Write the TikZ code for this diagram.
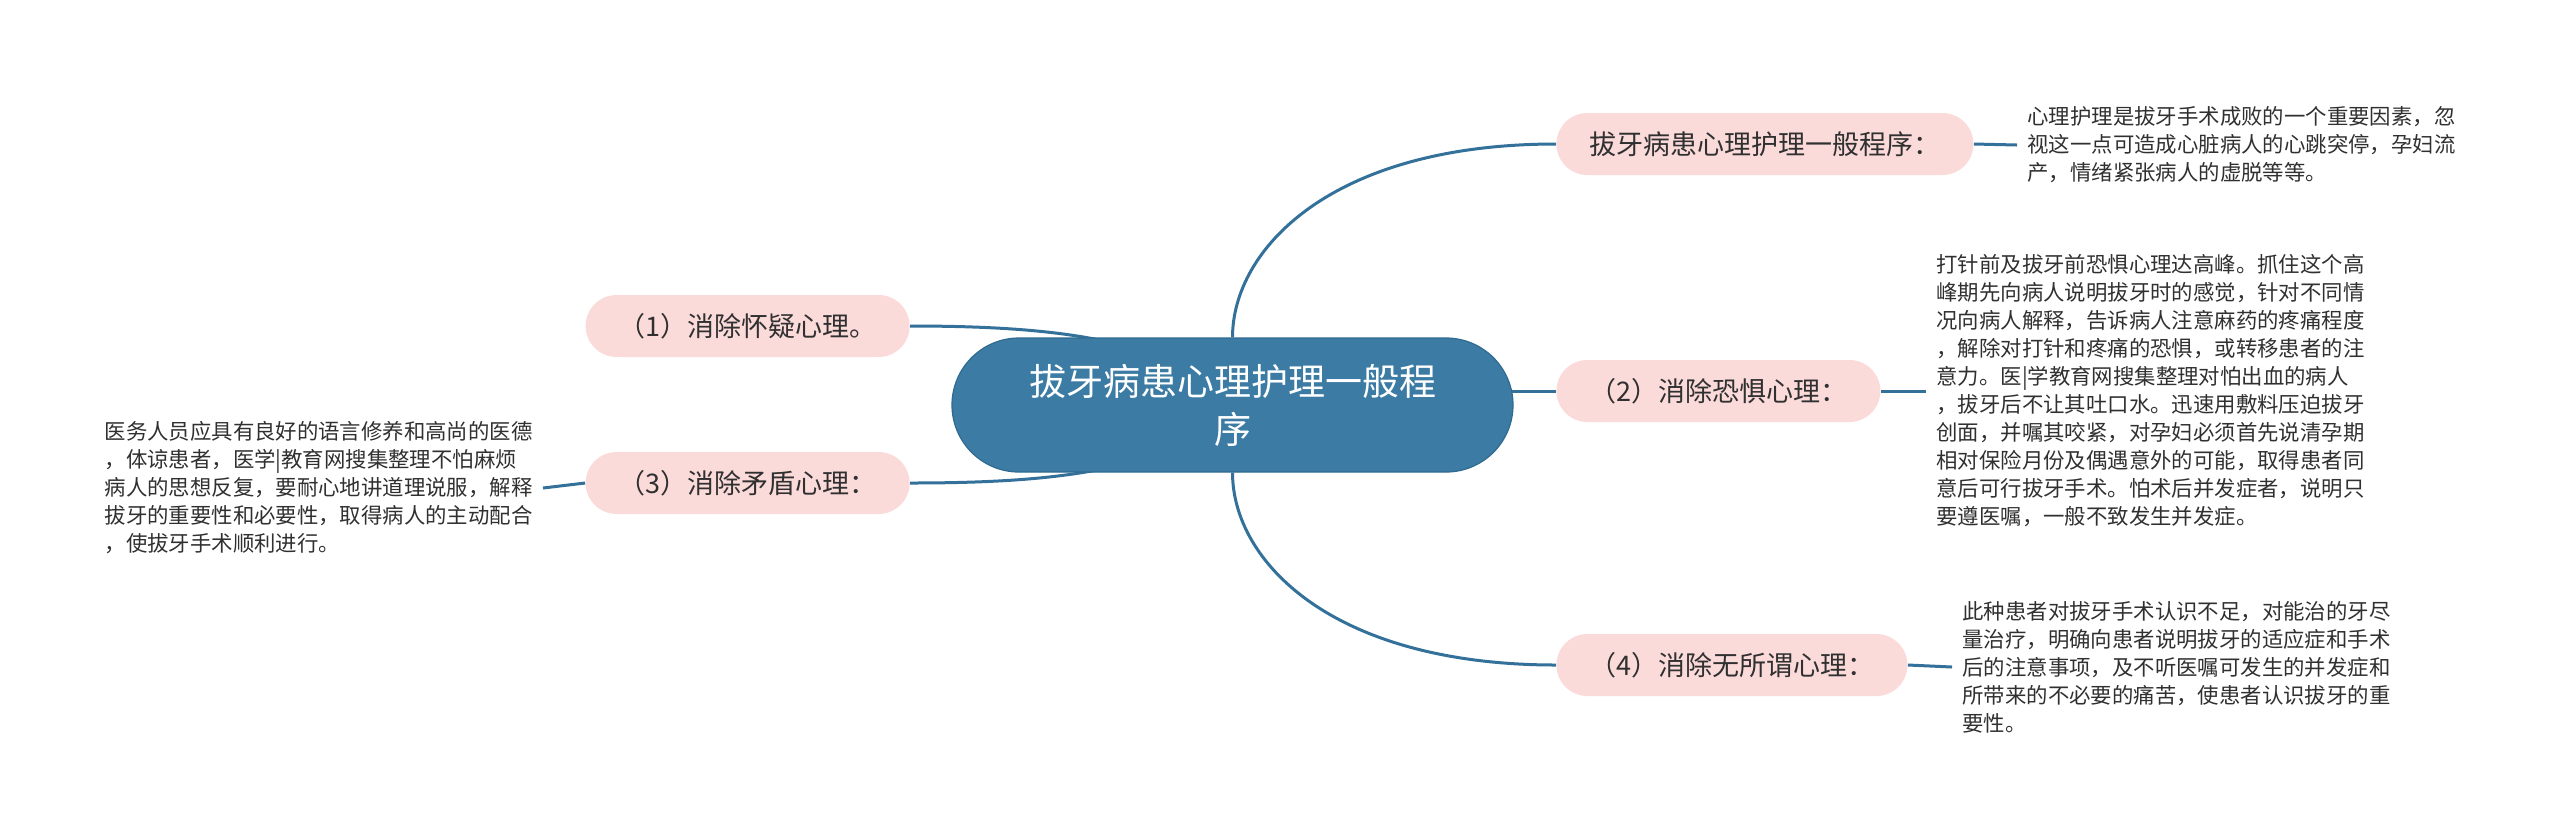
\documentclass[tikz,border=0pt]{standalone}
\usepackage{fontspec}
\setmainfont{Noto Sans CJK SC}
\usepackage{tikz}
\usetikzlibrary{positioning,backgrounds}

\definecolor{hubblue}{HTML}{3C7BA3}
\definecolor{hubedge}{HTML}{2F6A90}
\definecolor{linkblue}{HTML}{33709A}
\definecolor{pillpink}{HTML}{FBDADA}
\definecolor{inkgray}{HTML}{303030}

\begin{document}
\begin{tikzpicture}[
  x=0.5pt, y=-0.5pt,
  hub/.style={draw=hubedge, line width=0.6pt, fill=hubblue, text=white, align=center,
              rounded corners=33.5pt, minimum width=280.5pt, minimum height=67pt,
              font=\fontsize{18.5pt}{24pt}\selectfont},
  pill/.style={fill=pillpink, text=inkgray, rounded corners=15.5pt,
               minimum height=31pt, inner xsep=16.5pt,
               font=\fontsize{13.5pt}{16pt}\selectfont},
  note/.style={text=inkgray, align=left, inner xsep=5pt, inner ysep=0pt,
               font=\fontsize{10.7pt}{14pt}\selectfont},
  branch/.style={draw=linkblue, line width=1.5pt},
]
\useasboundingbox (0,0) rectangle (2560,837);

\node[hub] (hub) at (1232.5,405) {拔牙病患心理护理一般程\\序};

\node[pill, anchor=west] (r1) at (1556,144) {拔牙病患心理护理一般程序：};
\node[pill, anchor=west] (r2) at (1556,391) {（2）消除恐惧心理：};
\node[pill, anchor=west] (r4) at (1556,665) {（4）消除无所谓心理：};
\node[pill, anchor=east] (l1) at (910,326) {（1）消除怀疑心理。};
\node[pill, anchor=east] (l3) at (910,483) {（3）消除矛盾心理：};

\node[note, anchor=west] (t1) at (2017,145) {心理护理是拔牙手术成败的一个重要因素，忽\\
  视这一点可造成心脏病人的心跳突停，孕妇流\\产，情绪紧张病人的虚脱等等。};
\node[note, anchor=west] (t2) at (1926,391) {打针前及拔牙前恐惧心理达高峰。抓住这个高\\
  峰期先向病人说明拔牙时的感觉，针对不同情\\况向病人解释，告诉病人注意麻药的疼痛程度\\
  ，解除对打针和疼痛的恐惧，或转移患者的注\\意力。医|学教育网搜集整理对怕出血的病人\\
  ，拔牙后不让其吐口水。迅速用敷料压迫拔牙\\创面，并嘱其咬紧，对孕妇必须首先说清孕期\\
  相对保险月份及偶遇意外的可能，取得患者同\\意后可行拔牙手术。怕术后并发症者，说明只\\
  要遵医嘱，一般不致发生并发症。};
\node[note, anchor=west] (t4) at (1952,667) {此种患者对拔牙手术认识不足，对能治的牙尽\\
  量治疗，明确向患者说明拔牙的适应症和手术\\后的注意事项，及不听医嘱可发生的并发症和\\
  所带来的不必要的痛苦，使患者认识拔牙的重\\要性。};
\node[note, anchor=east] (t3) at (543,488) {医务人员应具有良好的语言修养和高尚的医德\\
  ，体谅患者，医学|教育网搜集整理不怕麻烦\\病人的思想反复，要耐心地讲道理说服，解释\\
  拔牙的重要性和必要性，取得病人的主动配合\\，使拔牙手术顺利进行。};

\begin{scope}[on background layer]
  \draw[branch] (hub.north) .. controls +(0,-88) and +(-225,0) .. (r1.west);
  \draw[branch] (hub.center |- r2.west) -- (r2.west);
  \draw[branch] (hub.south) .. controls +(0,88) and +(-225,0) .. (r4.west);
  \draw[branch] (l1.east) .. controls +(150,0) and +(-60,-65) .. (hub.center);
  \draw[branch] (l3.east) .. controls +(150,0) and +(-60,65) .. (hub.center);
  \draw[branch] (r1.east) -- (t1.west);
  \draw[branch] (r2.east) -- (t2.west);
  \draw[branch] (r4.east) -- (t4.west);
  \draw[branch] (l3.west) -- (t3.east);
\end{scope}
\end{tikzpicture}
\end{document}
